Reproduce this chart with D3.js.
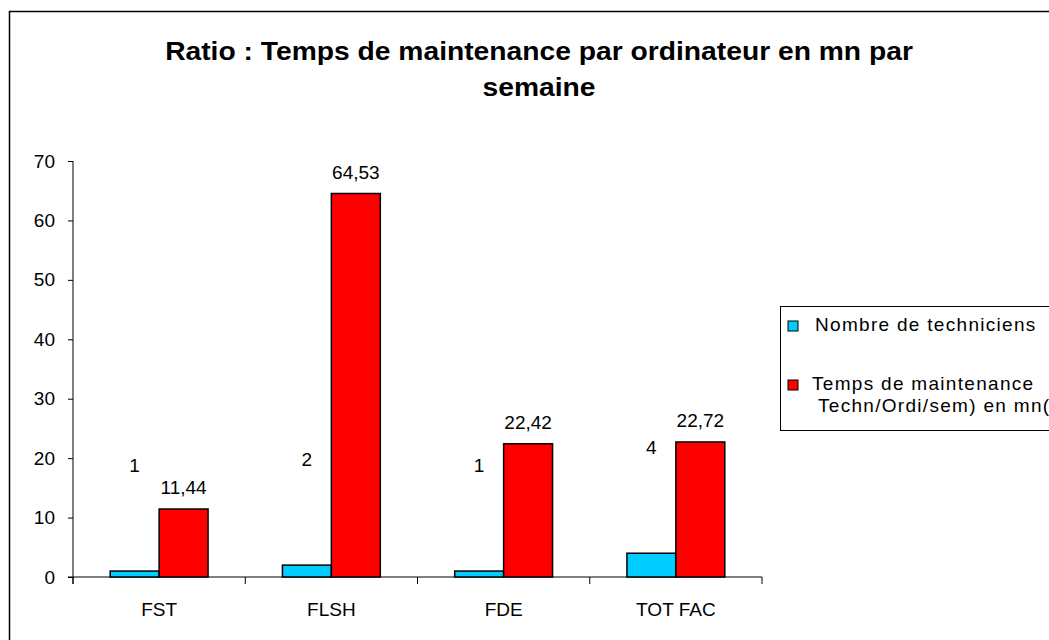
<!DOCTYPE html>
<html>
<head>
<meta charset="utf-8">
<script src="https://cdn.jsdelivr.net/npm/d3@7"></script>
<style>
  html, body { margin: 0; padding: 0; background: #fff; overflow: hidden; }
  svg { display: block; font-family: "Liberation Sans", Arial, sans-serif; }
  .tick text { font-size: 19px; fill: #000; }
</style>
</head>
<body>
<svg width="1049" height="640"></svg>
<script>
// data
var categories = ["FST", "FLSH", "FDE", "TOT FAC"];
var seriesNames = ["Nombre de techniciens", "Temps de maintenance"];
var techniciens = [1, 2, 1, 4];
var tempsMaintenance = [11.44, 64.53, 22.42, 22.72];
var yTicks = [0, 10, 20, 30, 40, 50, 60, 70];
var colors = ["#00ccff", "#ff0000"];

var svg = d3.select("svg");
var plot = { left: 73, right: 762, top: 161, bottom: 577 };

// outer frame (runs past the right and bottom edges)
svg.append("rect")
  .attr("x", 9.5).attr("y", 11.5)
  .attr("width", 1100).attr("height", 700)
  .attr("fill", "none").attr("stroke", "#000").attr("stroke-width", 1.5);

// title, a bit wider than the plain font
var titleLines = ["Ratio : Temps de maintenance par ordinateur en mn par", "semaine"];
titleLines.forEach((s, i) => {
  svg.append("text")
    .attr("transform", "translate(539," + (60 + i * 36) + ") scale(1.13,1)")
    .attr("text-anchor", "middle")
    .attr("font-weight", "bold")
    .attr("font-size", "25px")
    .text(s);
});

var x = d3.scaleBand()
  .domain(categories)
  .range([plot.left, plot.right]);

var x1 = d3.scaleBand()
  .domain([0, 1])
  .range([0, x.bandwidth()])
  .paddingOuter(0.76);

var y = d3.scaleLinear()
  .domain([0, 70])
  .range([plot.bottom, plot.top]);

// y axis
var yAxis = svg.append("g")
  .attr("transform", "translate(" + plot.left + ",0)")
  .call(d3.axisLeft(y).tickValues(yTicks).tickSize(5).tickPadding(13));
yAxis.select(".domain").attr("d", "M0," + plot.top + "V" + (plot.bottom + 7));

// x axis with ticks between categories
var xAxis = svg.append("g")
  .attr("transform", "translate(0," + plot.bottom + ")");
xAxis.append("line")
  .attr("x1", plot.left - 5).attr("x2", plot.right)
  .attr("stroke", "#000");
xAxis.selectAll(".sep")
  .data(categories.concat(["end"]))
  .enter().append("line")
  .attr("x1", (d, i) => i < categories.length ? x(d) : plot.right)
  .attr("x2", (d, i) => i < categories.length ? x(d) : plot.right)
  .attr("y1", 0).attr("y2", 7)
  .attr("stroke", "#000");
xAxis.selectAll(".lab")
  .data(categories)
  .enter().append("text")
  .attr("x", d => x(d) + x.bandwidth() / 2)
  .attr("y", 39)
  .attr("text-anchor", "middle")
  .attr("font-size", "19px")
  .text(d => d);

var rows = categories.map((c, i) => ({ cat: c, vals: [techniciens[i], tempsMaintenance[i]] }));

var groups = svg.selectAll(".grp")
  .data(rows)
  .enter().append("g")
  .attr("transform", d => "translate(" + x(d.cat) + ",0)");

groups.selectAll("rect")
  .data(d => d.vals.map((v, j) => ({ v: v, j: j })))
  .enter().append("rect")
  .attr("x", d => x1(d.j))
  .attr("y", d => y(d.v))
  .attr("width", x1.bandwidth())
  .attr("height", d => y(0) - y(d.v))
  .attr("fill", d => colors[d.j])
  .attr("stroke", "#000")
  .attr("stroke-width", 1.5);

// value labels (blue ones sit much higher, as in the original)
groups.selectAll(".val")
  .data(d => d.vals.map((v, j) => ({ v: v, j: j })))
  .enter().append("text")
  .attr("x", d => x1(d.j) + x1.bandwidth() / 2)
  .attr("y", d => y(d.v) - (d.j === 0 ? 99 : 15))
  .attr("text-anchor", "middle")
  .attr("font-size", "19px")
  .text(d => String(d.v).replace(".", ","));

// legend (box runs off the right edge)
var legend = svg.append("g");
legend.append("rect")
  .attr("x", 780.5).attr("y", 306.5)
  .attr("width", 400).attr("height", 124)
  .attr("fill", "#fff").attr("stroke", "#000");
var legendLines = [["Nombre de techniciens"], ["Temps de maintenance", "Techn/Ordi/sem) en mn("]];
var legendY = [331, 390];
legendLines.forEach((lines, i) => {
  legend.append("rect")
    .attr("x", 788).attr("y", legendY[i] - 10)
    .attr("width", 10).attr("height", 10)
    .attr("fill", colors[i]).attr("stroke", "#000");
  var t = legend.append("text")
    .attr("font-size", "19px")
    .attr("letter-spacing", "1.3px");
  lines.forEach((s, k) => {
    t.append("tspan")
      .attr("x", (i === 0 ? 815 : 812) + (k ? 6 : 0))
      .attr("y", legendY[i] + k * 22)
      .text(s);
  });
});
</script>
</body>
</html>
